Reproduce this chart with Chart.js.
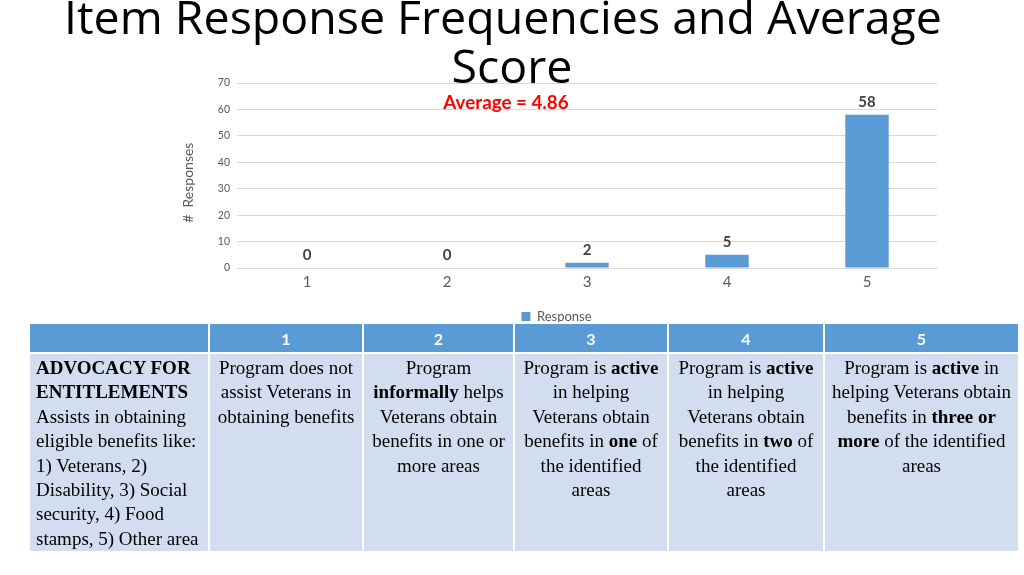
<!DOCTYPE html>
<html>
<head>
<meta charset="utf-8">
<script src="https://cdn.jsdelivr.net/npm/chart.js@4/dist/chart.umd.min.js"></script>
<style>
  html, body { margin: 0; padding: 0; background: #fff; }
  #wrap { position: relative; width: 1024px; height: 575px; overflow: hidden; }
  #title { position: absolute; left: 0; top: -8px; width: 1024px; text-align: center;
           font-family: "Open Sans", sans-serif; font-size: 46.5px; line-height: 49px; color: #000; z-index: 2; }
  #title .l1 { position: relative; left: -9px; }
  #avg { position: absolute; left: 0; width: 1012px; top: 90px; text-align: center;
         font-family: Lato, sans-serif; font-weight: bold; font-size: 18.8px; color: #ff0000; z-index: 2; }
  #chartBox { position: absolute; left: 0; top: 0; width: 1024px; height: 333px; }
  #tbl { position: absolute; left: 28px; top: 322px; width: 990px; border-collapse: collapse;
         table-layout: fixed; z-index: 3; }
  #tbl th { background: #5b9bd5; color: #fff; font-family: Lato, sans-serif; font-weight: bold;
            font-size: 16px; height: 28px; padding: 0; border: 2px solid #fff; }
  #tbl td { background: #d2deef; color: #000; font-family: "Liberation Serif", serif; font-size: 19px;
            line-height: 24.4px; vertical-align: top; text-align: center; height: 193px;
            padding: 2px 6px 0 6px; border: 2px solid #fff; }
  #tbl td.first { text-align: left; }
</style>
</head>
<body>
<div id="wrap">
  <div id="title"><span class="l1">Item Response Frequencies and Average</span><br>Score</div>
  <div id="avg"></div>
  <div id="chartBox"><canvas id="respChart"></canvas></div>
  <table id="tbl"></table>
</div>
<script>
// chart data
const categories = ['1', '2', '3', '4', '5'];
const responses = [0, 0, 2, 5, 58];
const seriesName = 'Response';
const averageText = 'Average = 4.86';

// table data
const colWidths = [180, 154, 151, 154, 156, 195];
const tableHeads = ['', '1', '2', '3', '4', '5'];
const rowTitle = '<b>ADVOCACY FOR ENTITLEMENTS</b><br>Assists in obtaining eligible benefits like: 1) Veterans, 2) Disability, 3) Social security, 4) Food stamps, 5) Other area';
const levelTexts = [
  'Program does not assist Veterans in obtaining benefits',
  'Program <b>informally</b> helps Veterans obtain benefits in one or more areas',
  'Program is <b>active</b> in helping Veterans obtain benefits in <b>one</b> of the identified areas',
  'Program is <b>active</b> in helping Veterans obtain benefits in <b>two</b> of the identified areas',
  'Program is <b>active</b> in helping Veterans obtain benefits in <b>three or more</b> of the identified areas'
];

document.getElementById('avg').textContent = averageText;

// build the table
let html = '<colgroup>';
colWidths.forEach(w => { html += '<col style="width:' + w + 'px">'; });
html += '</colgroup><tr>';
tableHeads.forEach(h => { html += '<th>' + h + '</th>'; });
html += '</tr><tr><td class="first">' + rowTitle + '</td>';
levelTexts.forEach(t => { html += '<td>' + t + '</td>'; });
html += '</tr>';
document.getElementById('tbl').innerHTML = html;

// value labels above bars
const barLabels = {
  id: 'barLabels',
  afterDatasetsDraw(chart) {
    const ctx = chart.ctx;
    const meta = chart.getDatasetMeta(0);
    ctx.save();
    ctx.font = 'bold 15px Lato';
    ctx.fillStyle = '#404040';
    ctx.textAlign = 'center';
    ctx.textBaseline = 'bottom';
    meta.data.forEach((bar, i) => {
      ctx.fillText(String(responses[i]), bar.x, bar.y - 5);
    });
    ctx.restore();
  }
};

const ctx = document.getElementById('respChart').getContext('2d');
new Chart(ctx, {
  type: 'bar',
  data: {
    labels: categories,
    datasets: [{
      label: seriesName,
      data: responses,
      backgroundColor: '#5b9bd5',
      borderWidth: 0,
      categoryPercentage: 1,
      barPercentage: 0.31
    }]
  },
  options: {
    responsive: true,
    maintainAspectRatio: false,
    animation: false,
    layout: { padding: { left: 176, right: 87, top: 83, bottom: 0 } },
    plugins: {
      legend: {
        position: 'bottom',
        labels: {
          boxWidth: 9, boxHeight: 9, padding: 14,
          color: '#595959', font: { family: 'Lato', size: 13 }
        }
      },
      tooltip: { enabled: false }
    },
    scales: {
      x: {
        grid: { display: false, drawTicks: false },
        border: { color: '#d9d9d9' },
        ticks: { color: '#595959', padding: 5, font: { family: 'Lato', size: 15 } }
      },
      y: {
        min: 0, max: 70,
        afterFit(scale) { scale.width = 61; },
        grid: { color: '#d9d9d9', drawTicks: false },
        border: { display: false },
        ticks: { stepSize: 10, color: '#595959', padding: 7, font: { family: 'Lato', size: 10.5 } },
        title: { display: true, text: '#  Responses    ', color: '#595959', font: { family: 'Lato', size: 14 } }
      }
    }
  },
  plugins: [barLabels]
});
</script>
</body>
</html>
